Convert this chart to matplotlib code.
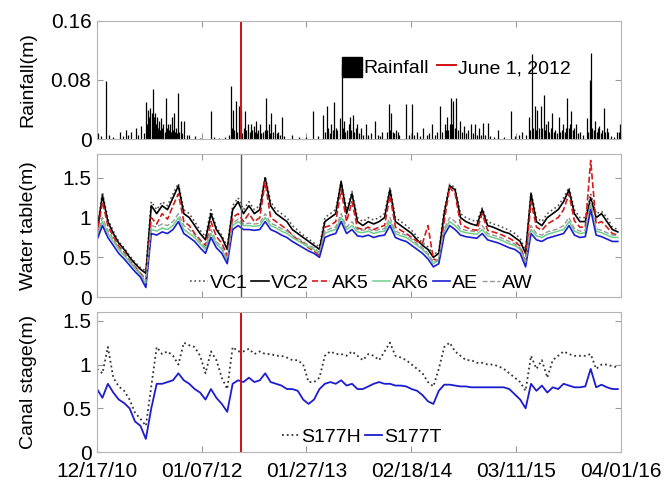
import numpy as np
import matplotlib
matplotlib.use("Agg")
import matplotlib.pyplot as plt
import matplotlib.dates as mdates
from matplotlib.patches import Patch
from matplotlib.lines import Line2D

plt.rcParams['font.family'] = ['Liberation Sans', 'DejaVu Sans']

# ---------------- data (days since 12/17/2010) ----------------
start = np.datetime64('2010-12-17')
event_day = np.datetime64('2012-06-01')
tick_dates = ['2010-12-17', '2012-01-07', '2013-01-27', '2014-02-18', '2015-03-11', '2016-04-01']

rain_day = [5, 15, 34, 45, 60, 86, 95, 105, 115, 126, 142, 150, 162, 172,
            181, 185, 189, 193, 197, 201, 205, 209, 213, 217, 221, 225, 229, 233, 237, 241, 245, 249,
            253, 257, 260, 264, 268, 272, 276, 280, 284, 288, 292, 296, 300, 304, 308, 314, 321, 330,
            340, 363, 380, 419, 430, 450, 470, 485,
            495, 498, 501, 505, 511, 516, 522, 526, 530, 536, 541, 546, 551, 557, 563, 569, 573, 577,
            581, 585, 590, 595, 601, 606, 612, 618, 623, 628, 633, 638, 641, 648, 656, 662, 669, 675,
            682, 690, 720, 745, 770,
            796, 815, 834, 840, 847, 852, 858, 863, 869, 875, 880, 886, 894, 902, 906, 910, 916, 923,
            929, 934, 938, 942, 948, 953, 958, 965, 973, 980, 992, 1000, 1010, 1024, 1035, 1045, 1052,
            1070, 1076, 1080, 1084, 1090, 1096, 1102, 1108, 1115, 1140, 1150, 1160, 1170, 1179, 1190,
            1203, 1215, 1225, 1235, 1245, 1255,
            1266, 1272, 1282, 1286, 1290, 1295, 1300, 1306, 1310, 1314, 1318, 1325, 1330, 1338, 1345,
            1353, 1360, 1368, 1377, 1385, 1393, 1400, 1409, 1416, 1424, 1432, 1440, 1450, 1465, 1480,
            1500, 1527, 1540, 1555, 1567, 1580,
            1594, 1598, 1604, 1608, 1615, 1619, 1623, 1628, 1635, 1640, 1646, 1650, 1656, 1662, 1668,
            1673, 1678, 1683, 1690, 1696, 1702, 1708, 1713, 1718, 1724, 1729, 1734, 1739, 1744, 1749,
            1754, 1760, 1765, 1772, 1781, 1790, 1805, 1810, 1816, 1821, 1826, 1831, 1837, 1842, 1847,
            1852, 1858, 1863, 1868, 1873, 1879, 1884, 1895, 1905, 1916, 1924, 1928]
rain_amt = [0.008, 0.004, 0.078, 0.006, 0.003, 0.01, 0.004, 0.012, 0.005, 0.01, 0.015, 0.006, 0.018, 0.008,
            0.05, 0.02, 0.04, 0.03, 0.042, 0.035, 0.068, 0.03, 0.035, 0.02, 0.03, 0.015, 0.025, 0.012, 0.028, 0.015, 0.02, 0.01,
            0.055, 0.015, 0.02, 0.012, 0.02, 0.01, 0.03, 0.012, 0.035, 0.01, 0.015, 0.008, 0.062, 0.01, 0.025, 0.008, 0.025, 0.005,
            0.006, 0.004, 0.002, 0.038, 0.003, 0.002, 0.003, 0.006,
            0.072, 0.015, 0.04, 0.012, 0.052, 0.01, 0.045, 0.012, 0.04, 0.008, 0.015, 0.038, 0.012, 0.02, 0.01, 0.02,
            0.012, 0.018, 0.01, 0.025, 0.008, 0.012, 0.02, 0.008, 0.01, 0.012, 0.055, 0.012, 0.02, 0.008, 0.035, 0.01,
            0.02, 0.008, 0.01, 0.006, 0.03, 0.004, 0.005, 0.003, 0.003,
            0.038, 0.004, 0.033, 0.01, 0.045, 0.015, 0.008, 0.02, 0.012, 0.05, 0.015, 0.012, 0.028, 0.1, 0.015,
            0.025, 0.01, 0.012, 0.02, 0.03, 0.012, 0.032, 0.01, 0.015, 0.02, 0.008, 0.015, 0.006, 0.02, 0.006,
            0.008, 0.025, 0.006, 0.004, 0.01,
            0.01, 0.048, 0.012, 0.035, 0.01, 0.008, 0.012, 0.01, 0.006, 0.048, 0.005, 0.048, 0.006, 0.01, 0.004,
            0.015, 0.005, 0.008, 0.02, 0.006, 0.01,
            0.045, 0.01, 0.02, 0.012, 0.03, 0.012, 0.02, 0.055, 0.02, 0.052, 0.015, 0.055, 0.012, 0.025, 0.01,
            0.018, 0.008, 0.012, 0.02, 0.008, 0.02, 0.006, 0.015, 0.006, 0.022, 0.006, 0.022, 0.004, 0.003, 0.012,
            0.003, 0.038, 0.004, 0.006, 0.01, 0.005,
            0.03, 0.012, 0.115, 0.015, 0.045, 0.012, 0.04, 0.015, 0.045, 0.015, 0.06, 0.012, 0.02, 0.025, 0.01,
            0.015, 0.035, 0.01, 0.012, 0.008, 0.03, 0.01, 0.012, 0.02, 0.01, 0.015, 0.055, 0.015, 0.02, 0.038,
            0.012, 0.015, 0.02, 0.008, 0.01, 0.006, 0.028, 0.01, 0.08, 0.116, 0.015, 0.012, 0.025, 0.01, 0.015,
            0.018, 0.008, 0.012, 0.042, 0.01, 0.015, 0.01, 0.004, 0.003, 0.01, 0.01, 0.02]

# water table / canal stage sampled every 20 days
wt_day = np.arange(0, 1921, 20)

vc1 = [0.84, 1.32, 0.98, 0.83, 0.70, 0.62, 0.52, 0.44, 0.37, 0.33,
       1.20, 1.10, 1.20, 1.15, 1.30, 1.43, 1.10, 1.05, 0.95, 0.84,
       0.76, 1.10, 0.88, 0.78, 0.63, 1.15, 1.25, 1.10, 1.20, 1.10,
       1.15, 1.52, 1.20, 1.10, 1.05, 1.00, 0.90, 0.84, 0.78, 0.73,
       0.68, 0.63, 1.00, 1.05, 1.10, 1.46, 1.10, 1.33, 1.00, 0.95,
       1.00, 0.97, 1.00, 1.05, 1.38, 1.00, 0.95, 0.90, 0.84, 0.76,
       0.68, 0.63, 0.53, 0.58, 1.10, 1.42, 1.38, 1.05, 1.00, 0.97,
       0.95, 1.12, 0.95, 0.92, 0.90, 0.87, 0.84, 0.80, 0.74, 0.58,
       1.32, 1.00, 0.95, 1.05, 1.10, 1.15, 1.25, 1.38, 1.10, 1.00,
       1.00, 1.30, 1.05, 1.08, 1.00, 0.88, 0.85]
vc2 = [0.82, 1.28, 0.95, 0.80, 0.68, 0.60, 0.50, 0.42, 0.35, 0.30,
       1.15, 1.05, 1.15, 1.10, 1.25, 1.40, 1.05, 1.00, 0.90, 0.80,
       0.72, 1.05, 0.85, 0.75, 0.60, 1.10, 1.20, 1.05, 1.15, 1.05,
       1.10, 1.50, 1.15, 1.05, 1.00, 0.95, 0.85, 0.80, 0.75, 0.70,
       0.65, 0.60, 0.95, 1.00, 1.05, 1.45, 1.05, 1.30, 0.95, 0.90,
       0.95, 0.92, 0.95, 1.00, 1.35, 0.95, 0.90, 0.85, 0.80, 0.72,
       0.65, 0.60, 0.50, 0.55, 1.05, 1.40, 1.35, 1.00, 0.95, 0.92,
       0.90, 1.10, 0.90, 0.88, 0.85, 0.82, 0.80, 0.75, 0.70, 0.55,
       1.30, 0.95, 0.90, 1.00, 1.05, 1.10, 1.20, 1.35, 1.05, 0.95,
       0.95, 1.25, 1.00, 1.05, 0.95, 0.85, 0.82]
ak5 = [0.78, 1.20, 0.90, 0.76, 0.64, 0.56, 0.46, 0.38, 0.30, 0.22,
       1.00, 0.92, 1.05, 0.98, 1.15, 1.30, 0.95, 0.90, 0.80, 0.72,
       0.65, 0.95, 0.76, 0.68, 0.52, 1.00, 1.05, 0.95, 1.05, 0.95,
       1.00, 1.45, 1.00, 0.95, 0.90, 0.85, 0.78, 0.72, 0.68, 0.62,
       0.58, 0.52, 0.88, 0.90, 0.95, 1.35, 0.95, 1.20, 0.87, 0.85,
       0.88, 0.85, 0.88, 0.90, 1.28, 0.88, 0.84, 0.80, 0.75, 0.70,
       0.68, 0.90, 0.48, 0.45, 0.95, 1.38, 1.30, 0.92, 0.88, 0.85,
       0.84, 1.05, 0.84, 0.82, 0.80, 0.77, 0.74, 0.70, 0.64, 0.45,
       1.20, 0.88, 0.84, 0.92, 0.96, 1.00, 1.10, 1.30, 0.96, 0.88,
       0.88, 1.72, 0.92, 0.95, 0.88, 0.80, 0.78]
ak6 = [0.76, 0.95, 0.80, 0.70, 0.60, 0.52, 0.44, 0.36, 0.28, 0.16,
       0.85, 0.83, 0.87, 0.85, 0.90, 1.00, 0.85, 0.80, 0.75, 0.67,
       0.60, 0.80, 0.67, 0.60, 0.46, 0.90, 0.95, 0.90, 0.90, 0.89,
       0.90, 1.00, 0.90, 0.87, 0.83, 0.80, 0.75, 0.71, 0.67, 0.63,
       0.60, 0.54, 0.80, 0.83, 0.85, 1.00, 0.85, 0.90, 0.82, 0.81,
       0.83, 0.80, 0.82, 0.83, 0.95, 0.80, 0.77, 0.75, 0.70, 0.65,
       0.60, 0.53, 0.42, 0.46, 0.83, 0.95, 0.90, 0.83, 0.81, 0.80,
       0.79, 0.85, 0.77, 0.75, 0.73, 0.70, 0.67, 0.65, 0.60, 0.42,
       0.85, 0.77, 0.75, 0.79, 0.81, 0.83, 0.85, 0.95, 0.83, 0.80,
       0.81, 1.15, 0.83, 0.81, 0.78, 0.75, 0.75]
ae = [0.72, 0.90, 0.75, 0.65, 0.55, 0.48, 0.40, 0.32, 0.25, 0.12,
      0.80, 0.78, 0.82, 0.80, 0.85, 0.95, 0.80, 0.75, 0.70, 0.62,
      0.55, 0.75, 0.62, 0.55, 0.42, 0.85, 0.90, 0.85, 0.85, 0.84,
      0.85, 0.95, 0.85, 0.82, 0.78, 0.75, 0.70, 0.66, 0.62, 0.58,
      0.55, 0.50, 0.75, 0.78, 0.80, 0.95, 0.80, 0.85, 0.77, 0.76,
      0.78, 0.75, 0.77, 0.78, 0.90, 0.75, 0.72, 0.70, 0.65, 0.60,
      0.55, 0.48, 0.38, 0.42, 0.78, 0.90, 0.85, 0.78, 0.76, 0.75,
      0.74, 0.80, 0.72, 0.70, 0.68, 0.65, 0.62, 0.60, 0.55, 0.38,
      0.80, 0.72, 0.70, 0.74, 0.76, 0.78, 0.80, 0.90, 0.78, 0.75,
      0.76, 1.10, 0.78, 0.76, 0.73, 0.70, 0.70]
aw = [0.78, 1.00, 0.84, 0.73, 0.62, 0.55, 0.46, 0.38, 0.30, 0.18,
      0.90, 0.88, 0.92, 0.90, 0.95, 1.05, 0.90, 0.85, 0.78, 0.70,
      0.62, 0.85, 0.70, 0.63, 0.48, 0.93, 0.98, 0.92, 0.93, 0.92,
      0.93, 1.05, 0.93, 0.90, 0.86, 0.83, 0.78, 0.74, 0.70, 0.65,
      0.62, 0.56, 0.83, 0.86, 0.88, 1.05, 0.88, 0.95, 0.85, 0.84,
      0.86, 0.83, 0.85, 0.86, 1.00, 0.83, 0.80, 0.78, 0.73, 0.67,
      0.62, 0.55, 0.44, 0.48, 0.86, 1.00, 0.95, 0.86, 0.84, 0.83,
      0.82, 0.90, 0.80, 0.78, 0.76, 0.73, 0.70, 0.67, 0.62, 0.44,
      0.90, 0.80, 0.78, 0.82, 0.84, 0.86, 0.90, 1.00, 0.86, 0.83,
      0.84, 1.20, 0.86, 0.84, 0.81, 0.78, 0.77]

s177h = [0.95, 0.90, 1.20, 0.85, 0.75, 0.70, 0.60, 0.45, 0.38, 0.30,
         0.75, 1.20, 1.12, 1.15, 1.10, 1.00, 1.25, 1.22, 1.20, 1.10,
         0.90, 1.15, 1.05, 0.85, 0.72, 1.20, 1.15, 1.15, 1.18, 1.12,
         1.15, 1.12, 1.12, 1.10, 1.10, 1.08, 1.05, 1.05, 1.00, 0.80,
         0.80, 0.85, 1.10, 1.15, 1.12, 1.12, 1.10, 1.15, 1.10, 1.05,
         1.12, 1.10, 1.05, 1.15, 1.25, 1.10, 1.08, 1.05, 1.00, 0.95,
         0.90, 0.80, 0.75, 0.95, 1.20, 1.25, 1.15, 1.10, 1.05, 1.05,
         1.02, 1.02, 1.00, 1.00, 0.98, 0.95, 0.90, 0.85, 0.80, 0.70,
         1.10, 0.95, 1.05, 0.85, 1.05, 1.10, 1.15, 1.12, 1.10, 1.10,
         1.10, 1.12, 0.95, 1.00, 1.00, 0.98, 0.97]
s177t = [0.72, 0.62, 0.78, 0.68, 0.60, 0.56, 0.50, 0.35, 0.30, 0.15,
         0.50, 0.78, 0.78, 0.80, 0.82, 0.90, 0.82, 0.78, 0.72, 0.68,
         0.60, 0.72, 0.62, 0.55, 0.46, 0.78, 0.82, 0.80, 0.85, 0.80,
         0.82, 0.90, 0.80, 0.78, 0.76, 0.72, 0.72, 0.70, 0.60, 0.55,
         0.60, 0.72, 0.78, 0.80, 0.78, 0.82, 0.76, 0.78, 0.72, 0.72,
         0.75, 0.78, 0.80, 0.78, 0.78, 0.76, 0.76, 0.75, 0.72, 0.70,
         0.65, 0.58, 0.55, 0.70, 0.77, 0.77, 0.76, 0.75, 0.75, 0.74,
         0.74, 0.74, 0.74, 0.74, 0.74, 0.74, 0.72, 0.66, 0.60, 0.50,
         0.78, 0.70, 0.76, 0.68, 0.74, 0.72, 0.78, 0.76, 0.74, 0.74,
         0.75, 0.95, 0.74, 0.77, 0.74, 0.72, 0.72]

# ---------------- plotting ----------------
rain_t = start + np.array(rain_day).astype('timedelta64[D]')
wt_t = start + wt_day.astype('timedelta64[D]')
ev = event_day.astype('datetime64[D]')

fig = plt.figure(figsize=(6.71, 4.83), dpi=100)
L, W = 0.1446, 0.781
ax1 = fig.add_axes([L, 0.712, W, 0.245])
ax2 = fig.add_axes([L, 0.385, W, 0.296])
ax3 = fig.add_axes([L, 0.064, W, 0.290])

FS = 15
LFS = 14

# rainfall
ax1.vlines(rain_t, 0, rain_amt, colors='k', lw=0.9)
ax1.axvline(ev, color='#d01010', lw=1.4)
ax1.set_ylim(0, 0.16)
ax1.set_yticks([0, 0.08, 0.16])
ax1.set_yticklabels(['0', '0.08', '0.16'])
ax1.set_ylabel('Rainfall(m)', fontsize=LFS)
h1 = [Patch(facecolor='k', edgecolor='k'), Line2D([], [], color='#d01010', lw=1.4)]
ax1.legend(h1, ['Rainfall', 'June 1, 2012'], loc='center', bbox_to_anchor=(0.686, 0.61),
           ncol=2, frameon=False, fontsize=LFS, handlelength=1.0, handleheight=1.2,
           handletextpad=0.1, columnspacing=0.4, borderpad=0)

# water table
ax2.plot(wt_t, vc1, ls=':', color='#555555', lw=1.2, label='VC1')
ax2.plot(wt_t, vc2, ls='-', color='k', lw=1.2, label='VC2')
ax2.plot(wt_t, ak5, ls='--', color='#d41c1c', lw=1.2, label='AK5')
ax2.plot(wt_t, ak6, ls='-', color='#6fcf8a', lw=1.1, label='AK6')
ax2.plot(wt_t, ae, ls='-', color='#1c1cd0', lw=1.2, label='AE')
ax2.plot(wt_t, aw, ls='--', color='#999999', lw=1.0, label='AW')
ax2.axvline(ev, color='#555555', lw=1.0)
ax2.set_ylim(0, 1.8)
ax2.set_yticks([0, 0.5, 1, 1.5])
ax2.set_yticklabels(['0', '0.5', '1', '1.5'])
ax2.set_ylabel('Water table(m)', fontsize=LFS)
ax2.legend(loc='center', bbox_to_anchor=(0.504, 0.1), ncol=6, frameon=False, fontsize=LFS,
           handlelength=0.9, handletextpad=0.1, columnspacing=0.2, borderpad=0)

# canal stage
ax3.plot(wt_t, s177h, ls=':', color='#333333', lw=1.3, label='S177H')
ax3.plot(wt_t, s177t, ls='-', color='#1c1cd0', lw=1.3, label='S177T')
ax3.axvline(ev, color='#d01010', lw=1.4)
ax3.set_ylim(0, 1.6)
ax3.set_yticks([0, 0.5, 1, 1.5])
ax3.set_yticklabels(['0', '0.5', '1', '1.5'])
ax3.set_ylabel('Canal stage(m)', fontsize=LFS)
ax3.legend(loc='center', bbox_to_anchor=(0.505, 0.107), ncol=2, frameon=False, fontsize=LFS,
           handlelength=0.9, handletextpad=0.1, columnspacing=0.2, borderpad=0)

ticks = [np.datetime64(d) for d in tick_dates]
for ax in (ax1, ax2, ax3):
    ax.set_xlim(np.datetime64(tick_dates[0]), np.datetime64(tick_dates[-1]))
    ax.set_xticks(ticks)
    ax.xaxis.set_major_formatter(mdates.DateFormatter('%m/%d/%y'))
    ax.tick_params(direction='in', length=4, color='#999999', labelsize=FS,
                   right=True, top=True, pad=4)
    for s in ax.spines.values():
        s.set_color('#b5b5b5')
    ax.yaxis.set_label_coords(-0.115, 0.5)
ax1.tick_params(labelbottom=False)
ax2.tick_params(labelbottom=False)
ax3.tick_params(axis='x', pad=7)

fig.savefig('out.png', dpi=100)
